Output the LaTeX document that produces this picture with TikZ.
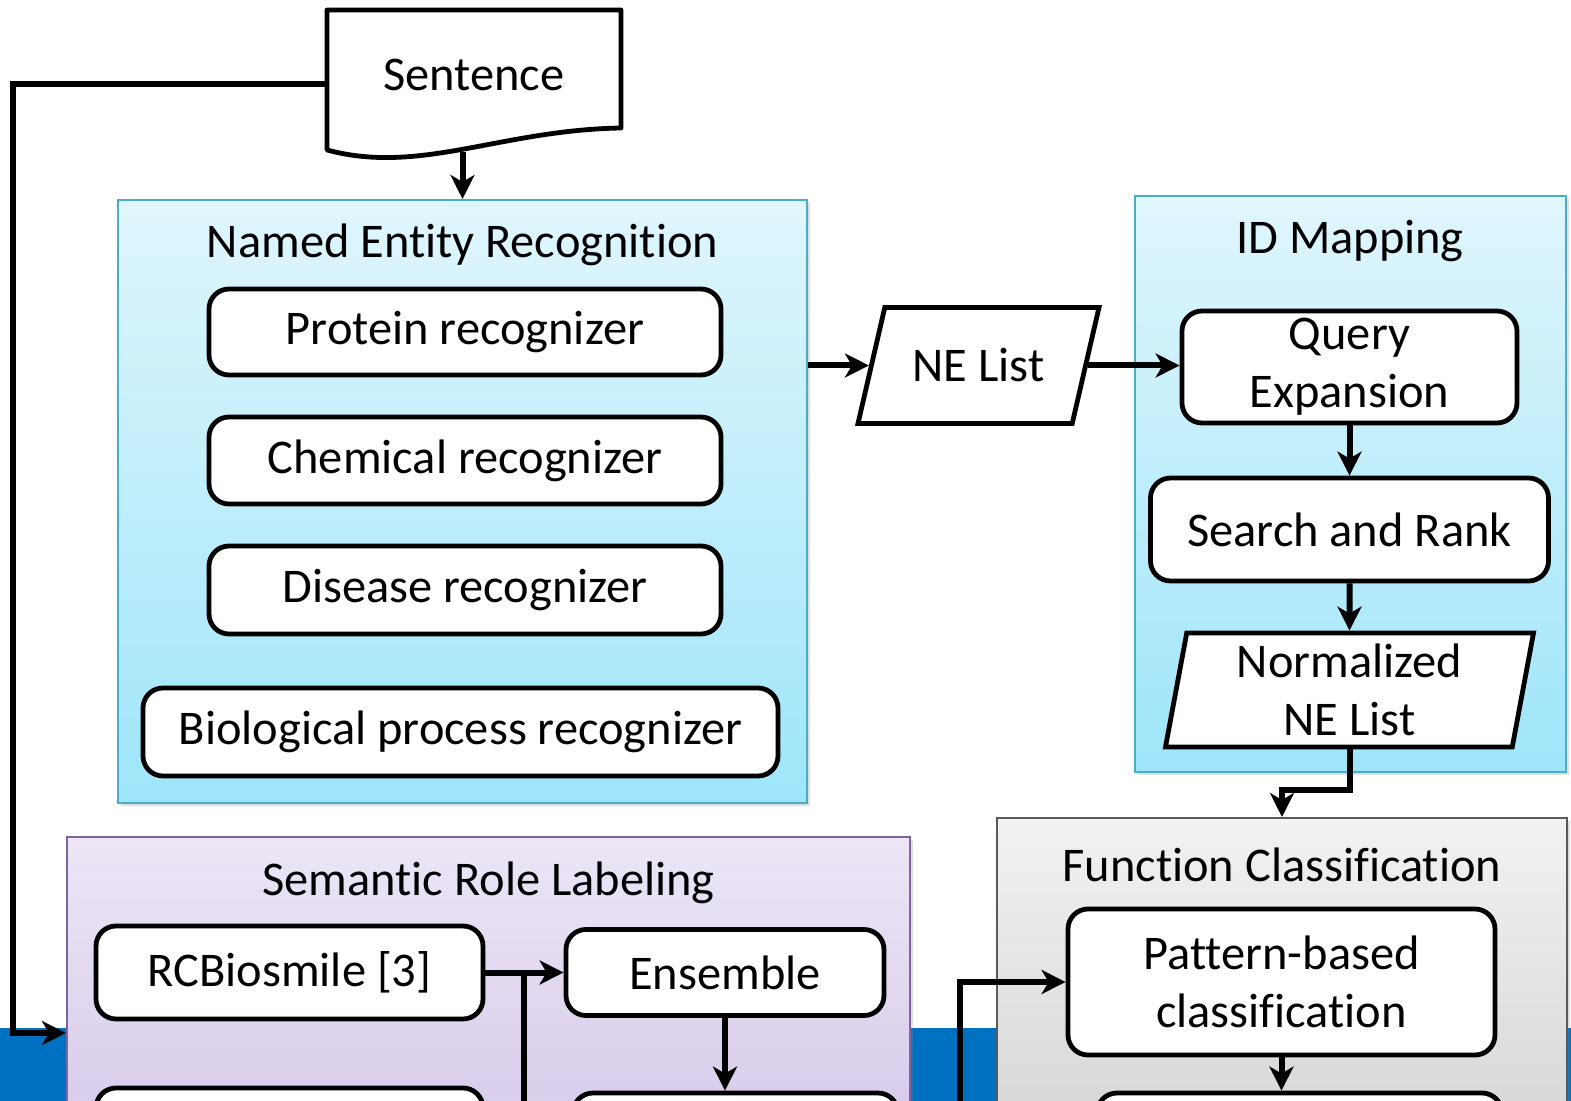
\documentclass[tikz,border=0pt]{standalone}
\usepackage{fontspec}
\setmainfont{Carlito}[Ligatures=NoCommon]
\usetikzlibrary{arrows.meta,shapes.geometric,shadows}

\definecolor{nertop}{RGB}{224,246,252}
\definecolor{nerbot}{RGB}{158,229,250}
\definecolor{nerline}{RGB}{75,172,198}
\definecolor{srltop}{RGB}{236,230,246}
\definecolor{srlbot}{RGB}{210,196,232}
\definecolor{srlline}{RGB}{128,100,162}
\definecolor{fctop}{RGB}{242,242,242}
\definecolor{fcbot}{RGB}{208,208,208}
\definecolor{fcline}{RGB}{90,90,90}
\definecolor{band}{RGB}{0,112,192}

\tikzset{
  box/.style={draw, line width=2.4pt, rounded corners=10pt, fill=white, align=center, inner sep=0pt},
  data/.style={draw, line width=2.4pt, fill=white, trapezium, trapezium left angle=77,
    trapezium right angle=103, trapezium stretches body=true, align=center, inner sep=0pt},
  panel/.style={draw=#1line, line width=1pt, top color=#1top, bottom color=#1bot,
    drop shadow={opacity=0.25, shadow xshift=1.5pt, shadow yshift=-1.5pt}},
  wire/.style={line width=3pt},
  conn/.style={line width=3pt, -{Stealth[length=12pt,width=12pt,inset=3.5pt]}},
}

\begin{document}
\begin{tikzpicture}[x=0.5pt, y=-0.5pt, font=\fontsize{24.2}{29}\selectfont]
\useasboundingbox (0,0) rectangle (1571,1101);
\clip (0,0) rectangle (1571,1101);

\fill[band] (0,1028) rectangle (1571,1101);

% panels
\node[panel=ner, minimum width=344.5pt, minimum height=301.5pt] (ner) at (462.5,501.5) {};
\node[panel=ner, minimum width=215.5pt, minimum height=288pt] (idm) at (1350.5,484) {};
\node[panel=srl, minimum width=421.5pt, minimum height=181.5pt] (srl) at (488.5,1018.5) {};
\node[panel=fc, minimum width=285pt, minimum height=191pt] (fc) at (1282,1009) {};

\node (nertitle) at (462.5,245) {Named Entity Recognition};
\node (idmtitle) at (1350,241) {ID Mapping};
\node (srltitle) at (488.5,883) {Semantic Role Labeling};
\node (fctitle) at (1282,865) {Function Classification};

% input sentence
\draw[line width=2.4pt, line join=round, fill=white] (327,150) -- (327,10) -- (621,10) -- (621,128)
  .. controls (500,130) and (420,175) .. (327,150) -- cycle;
\node[minimum width=147pt, minimum height=62pt] (sent) at (474,75) {Sentence};
\coordinate (sentb) at (462.5,152);

% NER
\node[box, minimum width=256pt, minimum height=43pt] (prot) at (465,332) {Protein recognizer};
\node[box, minimum width=256pt, minimum height=43.5pt] (chem) at (465,460.5) {Chemical recognizer};
\node[box, minimum width=256pt, minimum height=44pt] (dis) at (465,590) {Disease recognizer};
\node[box, minimum width=317.5pt, minimum height=44pt] (bio) at (460.5,732) {Biological process recognizer};

% ID mapping
\node[data, inner ysep=20.6pt, minimum width=120.5pt] (nel) at (978.5,365.5) {NE List};
\node[box, minimum width=167.5pt, minimum height=56pt] (qe) at (1349.5,367) {Query\\Expansion};
\node[box, minimum width=199pt, minimum height=51.5pt] (sr) at (1349.5,529.5) {Search and Rank};
\node[data, minimum width=184pt, minimum height=57pt] (nnl) at (1349.5,690) {Normalized\\NE List};

% SRL
\node[box, minimum width=193.5pt, minimum height=46.5pt] (rcb) at (289.5,972.5) {RCBiosmile [3]};
\node[box, minimum width=159pt, minimum height=43pt] (ens) at (725,972.5) {Ensemble};
\node[box, minimum width=193.5pt, minimum height=46pt] (srlnext) at (289.5,1134) {};
\node[box, minimum width=162.5pt, minimum height=46pt] (srlout) at (735.5,1139) {};
\coordinate (srljoin) at (524,1120);

% function classification
\node[box, minimum width=213.5pt, minimum height=73pt] (pat) at (1281.5,982) {Pattern-based\\classification};
\node[box, minimum width=202.5pt, minimum height=46pt] (fcnext) at (1299.5,1139) {};
\coordinate (fcjoin) at (960,1120);

% connectors
\draw[conn] (sentb) -- (ner.north);
\draw[conn] ([yshift=-4.5pt]sent.west) -- (13,84) -- (13,1033) -- (srl.west |- 0,1033);
\draw[conn] (ner.east |- nel.west) -- (nel.west);
\draw[conn] (nel.east) -- (nel.east -| qe.west);
\foreach \from/\to in {qe/sr,sr/nnl}
  \draw[conn] (\from) -- (\to);
\draw[conn] (nnl.south) -- (nnl.south |- 0,790) -| (fc.north);
\draw[conn] (rcb.east) -- (ens.west);
\draw[wire] (srljoin) -- (srljoin |- ens.west);
\draw[conn] (ens.south) -- (ens.south |- srlout.north);
\draw[conn] (fcjoin) |- (pat.west);
\draw[conn] (pat.south) -- (pat.south |- fcnext.north);
\end{tikzpicture}
\end{document}
